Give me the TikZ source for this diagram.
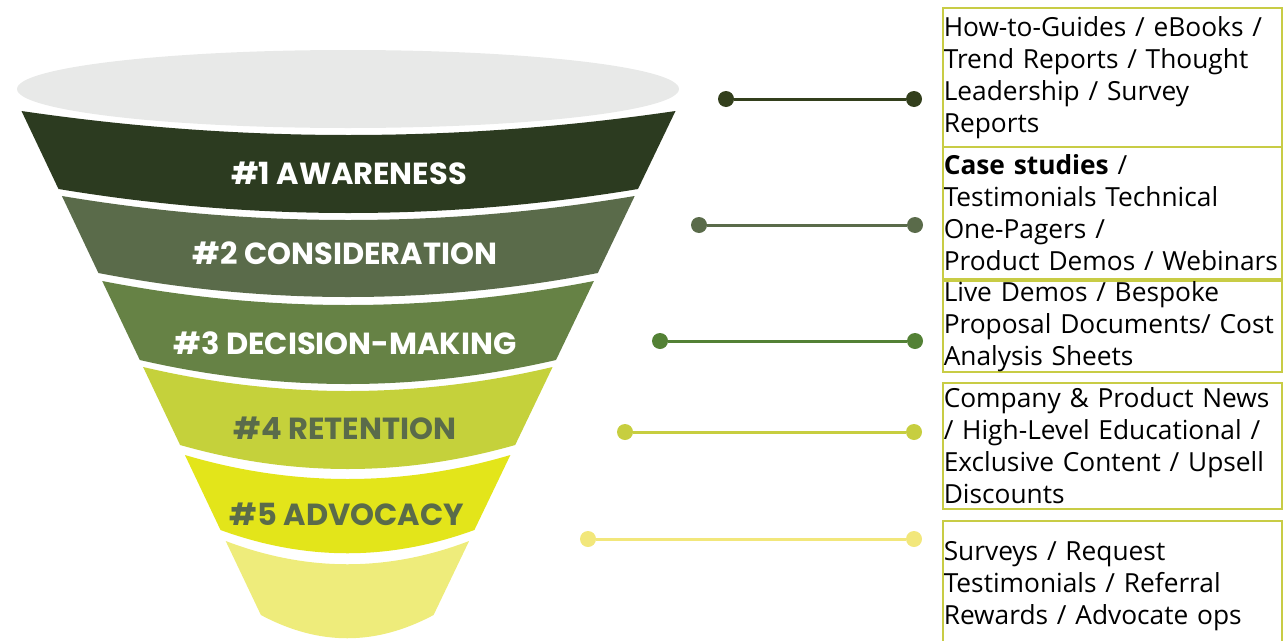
\documentclass[tikz,border=0pt]{standalone}
\usepackage{fontspec}
\setmainfont{Open Sans}
\newfontfamily\stagefont{Poppins}
\usepackage{tikz}

\definecolor{lidgray}{HTML}{E8E9E8}
\definecolor{stageone}{HTML}{2C3B20}
\definecolor{stagetwo}{HTML}{5A6B4A}
\definecolor{stagethree}{HTML}{668245}
\definecolor{stagefour}{HTML}{C5D13B}
\definecolor{stagefive}{HTML}{E3E51A}
\definecolor{stagesix}{HTML}{EEEC7B}
\definecolor{linkone}{HTML}{333F1C}
\definecolor{linktwo}{HTML}{5A6B4A}
\definecolor{linkthree}{HTML}{538135}
\definecolor{linkfour}{HTML}{C7CE3F}
\definecolor{linkfive}{HTML}{F2E77B}
\definecolor{boxline}{HTML}{C8CC45}
\definecolor{stagetext}{HTML}{5A6B4A}

\begin{document}
\begin{tikzpicture}[x=1pt, y=-1pt,
    stage/.style={font=\stagefont\bfseries\fontsize{30.5}{32}\selectfont, text=white},
    darkstage/.style={stage, text=stagetext},
    dot/.style={circle, fill=#1, minimum size=16pt, inner sep=0pt},
    link/.style={line width=3pt, draw=#1},
    content/.style={draw=boxline, line width=1.5pt, anchor=north west, align=left,
        text width=337pt, inner xsep=1pt, inner ysep=0pt,
        font=\fontsize{26.3}{32}\selectfont}]

    \useasboundingbox (0,0) rectangle (1285,640);

    % funnel
    \fill[lidgray] (348,89) ellipse [x radius=331, y radius=39];
    \fill[stageone] (21.5,111) .. controls +(218,32) and +(-218,32) .. (675.5,111)
        -- (638,189) .. controls +(-193,32) and +(193,32) .. (58.5,189) -- cycle;
    \fill[stagetwo] (61.9,196) .. controls +(191,32) and +(-191,32) .. (634.7,196)
        -- (597.8,273) .. controls +(-166,32) and +(166,32) .. (98.4,273) -- cycle;
    \fill[stagethree] (102.2,281) .. controls +(164,32) and +(-164,32) .. (593.9,281)
        -- (556,360) .. controls +(-139,32) and +(139,32) .. (139.8,360) -- cycle;
    \fill[stagefour] (143.1,367) .. controls +(136,32) and +(-136,32) .. (552.6,367)
        -- (515.2,445) .. controls +(-112,32) and +(112,32) .. (180.1,445) -- cycle;
    \fill[stagefive] (184.9,455) .. controls +(108,32) and +(-108,32) .. (510.4,455)
        -- (474.4,530) .. controls +(-85,31) and +(85,31) .. (220.5,530) -- cycle;
    \fill[stagesix] (225.7,541) .. controls +(81,31) and +(-81,31) .. (469.1,541)
        -- (433.6,615) .. controls +(-58,31) and +(58,31) .. (260.9,615) -- cycle;

    \node (awareness) [stage] at (349,173) {\#1 AWARENESS};
    \node (consideration) [stage] at (345,253) {\#2 CONSIDERATION};
    \node (decision) [stage] at (345,343) {\#3 DECISION-MAKING};
    \node (retention) [darkstage] at (345,428) {\#4 RETENTION};
    \node (advocacy) [darkstage] at (347,514) {\#5 ADVOCACY};

    % connectors
    \node (a1) [dot=linkone] at (726,99) {};
    \node (b1) [dot=linkone] at (914,99) {};
    \node (a2) [dot=linktwo] at (699,225) {};
    \node (b2) [dot=linktwo] at (915,225) {};
    \node (a3) [dot=linkthree] at (660,341) {};
    \node (b3) [dot=linkthree] at (915,341) {};
    \node (a4) [dot=linkfour] at (625,432) {};
    \node (b4) [dot=linkfour] at (914,432) {};
    \node (a5) [dot=linkfive] at (588,539) {};
    \node (b5) [dot=linkfive] at (914,539) {};

    \draw [link=linkone] (a1) -- (b1);
    \draw [link=linktwo] (a2) -- (b2);
    \draw [link=linkthree] (a3) -- (b3);
    \draw [link=linkfour] (a4) -- (b4);
    \draw [link=linkfive] (a5) -- (b5);

    % content boxes
    \node (guides) [content, minimum height=139pt] at (942,7)
        {How-to-Guides / eBooks /\\Trend Reports / Thought\\Leadership / Survey\\Reports};
    \node (cases) [content, minimum height=132pt] at (942,146)
        {\textbf{Case studies} /\\Testimonials Technical\\One-Pagers /\\Product Demos / Webinars};
    \node (demos) [content, minimum height=91pt] at (942,280)
        {Live Demos / Bespoke\\Proposal Documents/ Cost\\Analysis Sheets};
    \node (news) [content, minimum height=126pt] at (942,382)
        {Company \& Product News\\/ High-Level Educational /\\Exclusive Content / Upsell\\Discounts};
    \node (surveys) [content, minimum height=130pt] at (942,520)
        {Surveys / Request\\Testimonials / Referral\\Rewards / Advocate ops};
\end{tikzpicture}
\end{document}
